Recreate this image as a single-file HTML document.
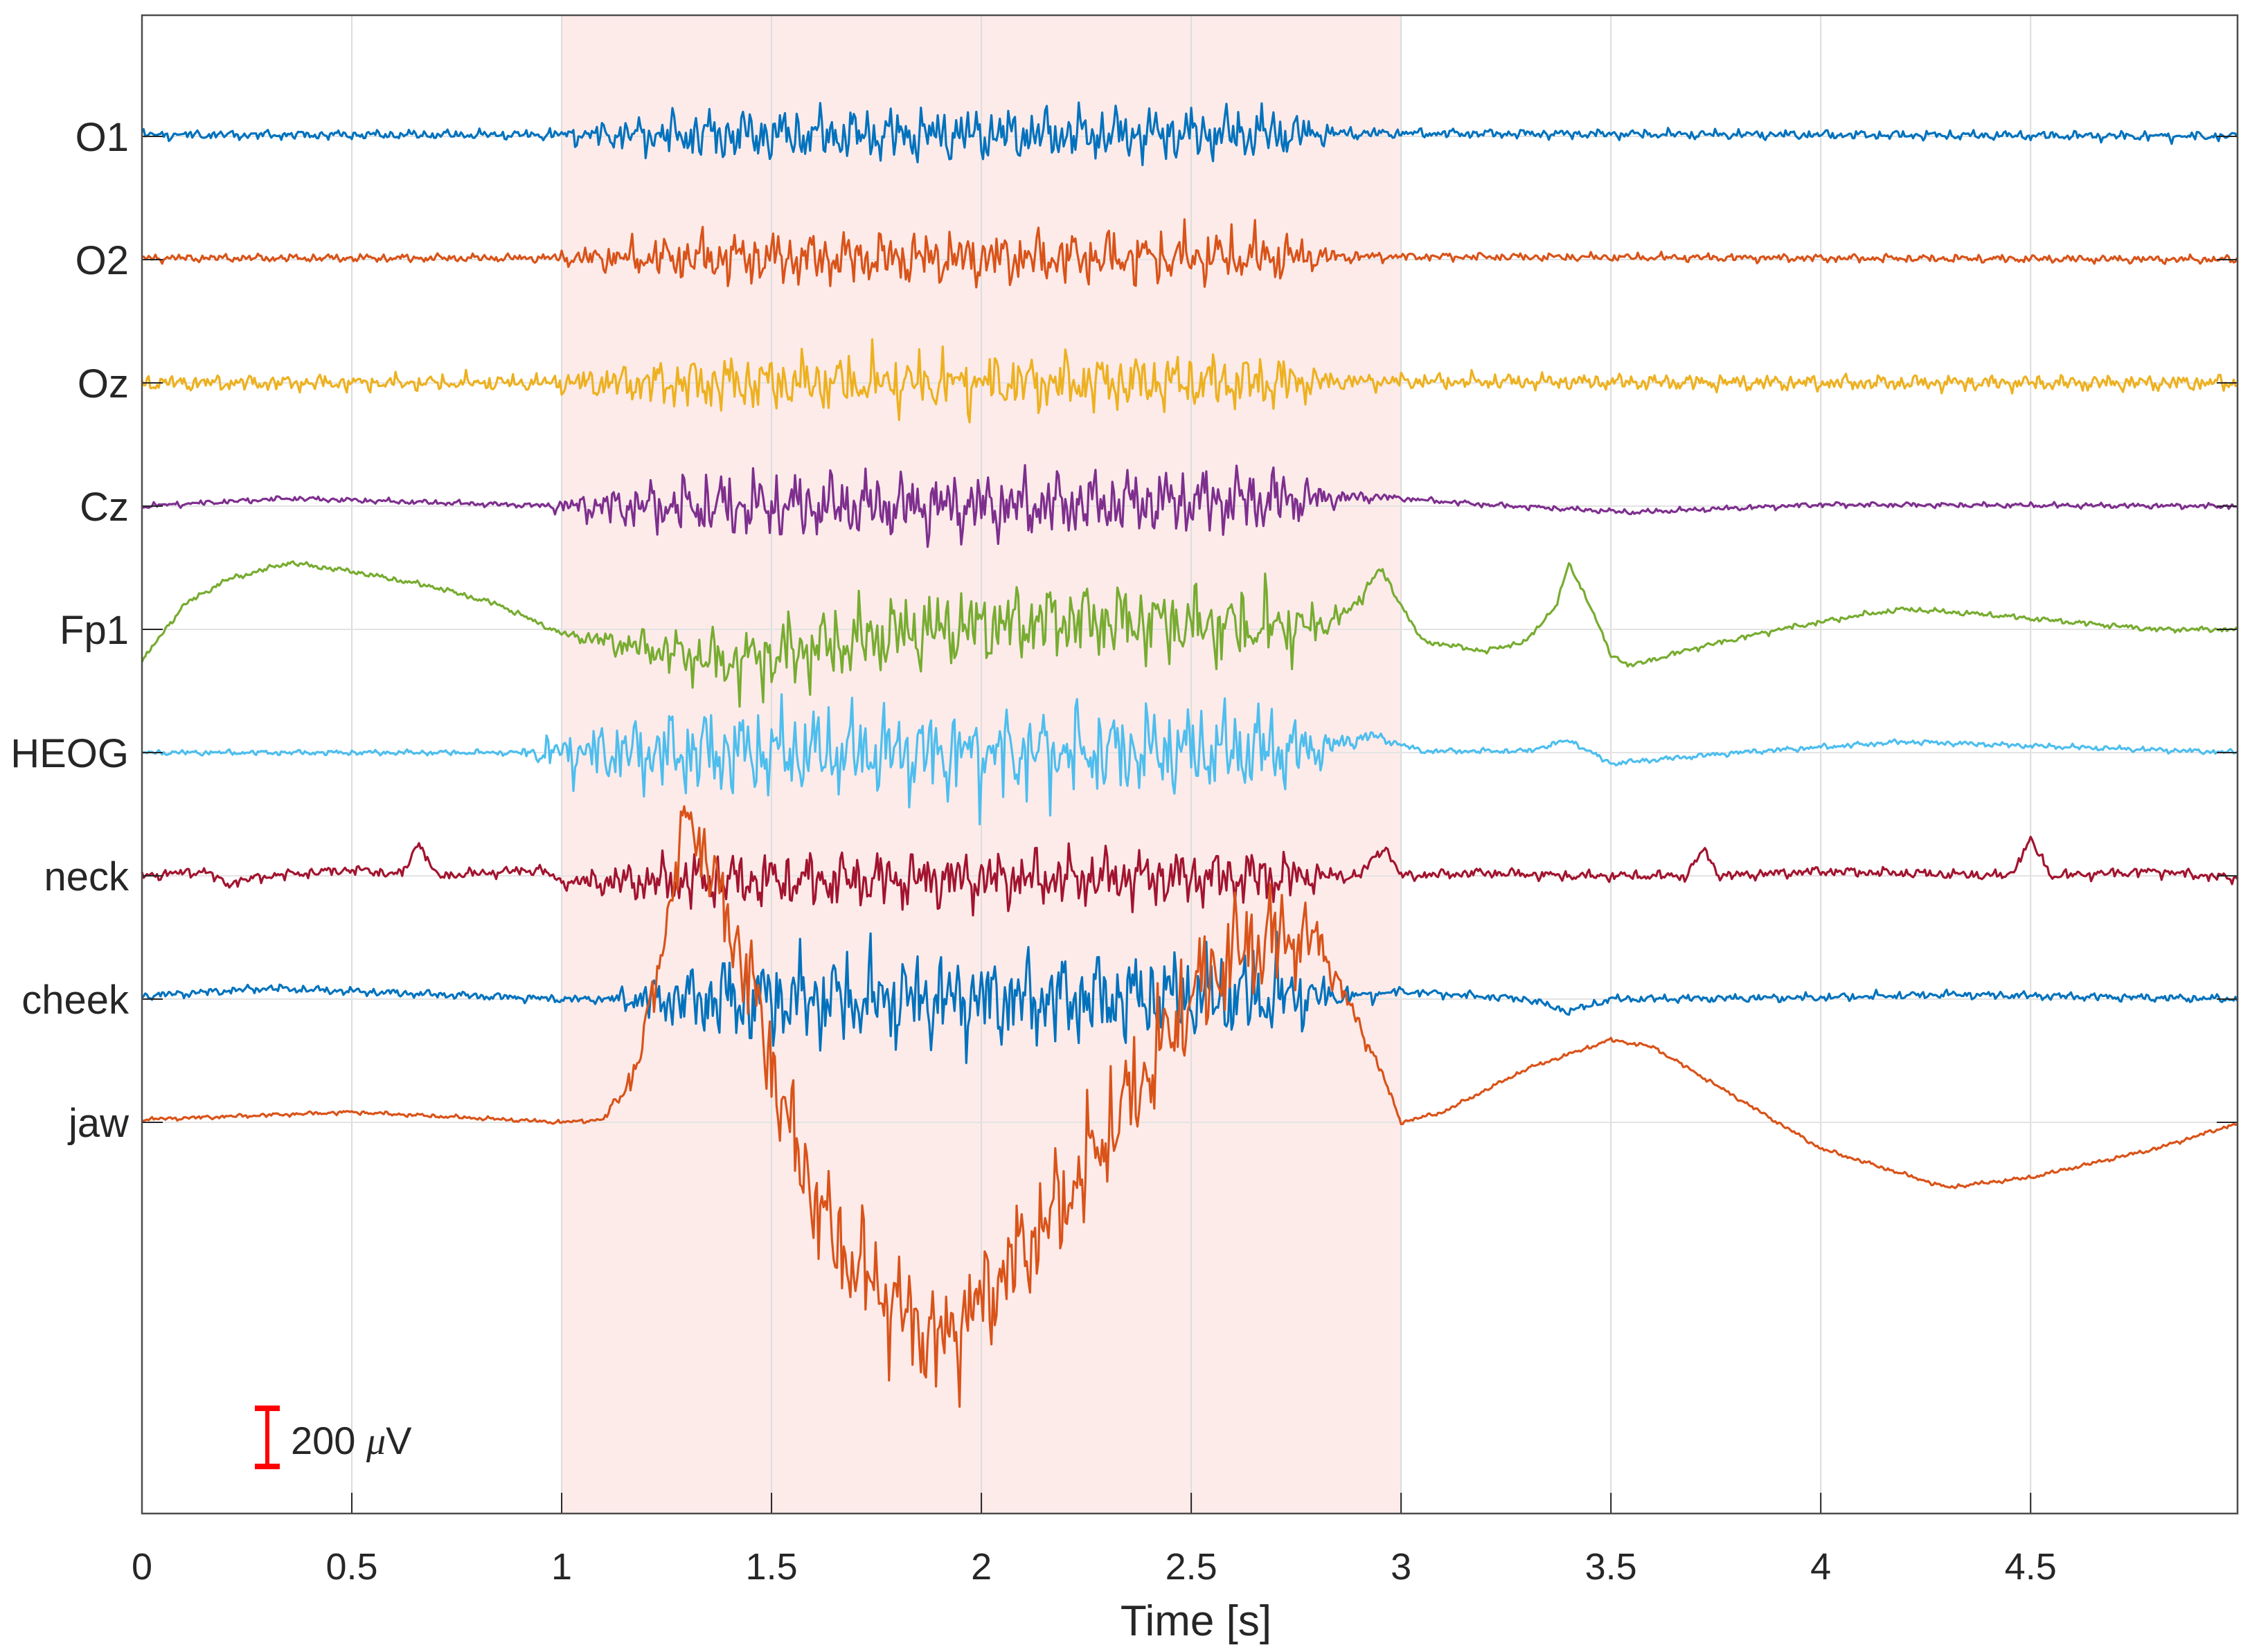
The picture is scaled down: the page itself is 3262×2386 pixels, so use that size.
<!DOCTYPE html>
<html><head><meta charset="utf-8">
<style>
html,body{margin:0;padding:0;background:#fff;}
svg text{font-family:"Liberation Sans",Arial,sans-serif;fill:#262626;}
</style></head>
<body>
<svg id="chart" width="3262" height="2381" viewBox="0 0 3262 2381" xmlns="http://www.w3.org/2000/svg">
<rect x="0" y="0" width="3262" height="2381" fill="#fff"/>
<g id="bg"></g>
<g id="grid"></g>
<g id="traces"></g>
<g id="axes"></g>
</svg>
<script>
// ---- data ----
const channels = ["O1","O2","Oz","Cz","Fp1","HEOG","neck","cheek","jaw"];
const colors = ["#0072BD","#D95319","#EDB120","#7E2F8E","#77AC30","#4DBEEE","#A2142F","#0072BD","#D95319"];
const xTicks = [0,0.5,1,1.5,2,2.5,3,3.5,4,4.5];
const xTickLabels = ["0","0.5","1","1.5","2","2.5","3","3.5","4","4.5"];
const shadeStart = 1, shadeEnd = 3;
const scaleBarUV = 200;
// drift knots (time s, value µV) per channel
const driftT_O1 = [0,1,2,3,4,5];
const driftV_O1 = [5,5,5,10,5,0];
const driftT_O2 = [0,1,2,3,4,5];
const driftV_O2 = [5,5,5,10,5,0];
const driftT_Oz = [0,1,2,3,4,5];
const driftV_Oz = [0,0,0,5,0,0];
const driftT_Cz = [0,0.35,0.6,1,2,2.95,3.2,3.55,4,5];
const driftV_Cz = [0,25,15,0,0,30,5,-20,5,0];
const driftT_Fp1 = [0,0.1,0.2,0.35,0.5,0.7,0.85,1.0,1.2,1.4,1.6,1.8,2.0,2.2,2.4,2.6,2.8,2.88,2.95,3.0,3.05,3.2,3.3,3.37,3.4,3.45,3.5,3.55,3.7,3.9,4.1,4.2,4.4,4.6,4.8,5];
const driftV_Fp1 = [-102,79,158,214,186,135,79,-14,-60,-107,-60,-14,9,33,23,9,9,60,195,79,-37,-70,-37,79,209,79,-84,-116,-60,0,47,65,47,23,0,0];
const driftT_HEOG = [0,1,2,2.8,2.93,3.05,3.3,3.4,3.5,3.8,4.2,5];
const driftV_HEOG = [0,0,0,10,55,5,5,40,-35,0,35,0];
const driftT_neck = [0,0.15,0.2,0.3,0.5,0.62,0.66,0.7,0.95,1.0,2.9,2.96,3.0,3.2,3.4,3.68,3.72,3.76,4.0,4.45,4.5,4.55,4.8,5];
const driftV_neck = [0,15,-25,0,20,5,110,0,20,-20,0,95,0,10,0,0,85,0,15,0,115,0,15,-10];
const driftT_cheek = [0,0.3,0.8,1,2,2.9,3.0,3.3,3.4,3.5,4,4.3,5];
const driftV_cheek = [10,35,10,0,0,10,25,0,-40,0,5,15,0];
const driftT_jaw = [0,0.5,1.0,1.1,1.18,1.25,1.3,1.35,1.45,1.55,1.65,1.8,1.9,2.0,2.2,2.4,2.5,2.6,2.7,2.8,2.85,2.95,3.0,3.1,3.3,3.5,3.6,3.8,4.0,4.3,4.5,4.8,5];
const driftV_jaw = [9,33,0,9,172,637,1009,823,451,-60,-386,-595,-711,-572,-246,172,405,544,591,591,451,172,0,33,172,265,242,79,-84,-209,-177,-84,0];
// noise amplitude knots (time s, µV)
const ampT_O1 = [0,0.95,1.1,1.35,2.7,2.85,3,5];
const ampV_O1 = [14,14,40,80,80,20,14,14];
const ampT_O2 = [0,0.95,1.1,1.35,2.7,2.85,3,5];
const ampV_O2 = [12,12,40,80,80,20,12,12];
const ampT_Oz = [0,0.95,1.1,1.35,2.7,2.85,3,5];
const ampV_Oz = [24,24,50,85,85,25,24,24];
const ampT_Cz = [0,0.95,1.1,1.35,2.7,2.85,3,5];
const ampV_Cz = [8,8,55,100,100,25,8,8];
const ampT_Fp1 = [0,1.0,1.2,1.5,2.7,2.85,3,5];
const ampV_Fp1 = [8,8,55,115,115,30,8,8];
const ampT_HEOG = [0,0.9,1.0,1.3,2.7,2.85,3,5];
const ampV_HEOG = [8,8,70,135,135,30,8,8];
const ampT_neck = [0,1.0,1.1,1.3,2.7,2.85,3,5];
const ampV_neck = [15,15,45,85,85,20,15,15];
const ampT_cheek = [0,1.1,1.2,1.4,2.7,2.85,3,5];
const ampV_cheek = [12,12,60,140,140,30,12,12];
const ampT_jaw = [0,1.1,1.2,1.5,2.7,2.85,3,5];
const ampV_jaw = [6,6,60,170,170,40,6,6];

const driftT = [driftT_O1,driftT_O2,driftT_Oz,driftT_Cz,driftT_Fp1,driftT_HEOG,driftT_neck,driftT_cheek,driftT_jaw];
const driftV = [driftV_O1,driftV_O2,driftV_Oz,driftV_Cz,driftV_Fp1,driftV_HEOG,driftV_neck,driftV_cheek,driftV_jaw];
const ampT = [ampT_O1,ampT_O2,ampT_Oz,ampT_Cz,ampT_Fp1,ampT_HEOG,ampT_neck,ampT_cheek,ampT_jaw];
const ampV = [ampV_O1,ampV_O2,ampV_Oz,ampV_Cz,ampV_Fp1,ampV_HEOG,ampV_neck,ampV_cheek,ampV_jaw];

// ---- layout ----
const L=205, R=3231, T=22, B=2186;
const xMin=0, xMax=4.993;
const baseY0=197, chSpacing=178;
const pxPerUV = 90/200;
const NS="http://www.w3.org/2000/svg";
function xs(t){return L+(t-xMin)/(xMax-xMin)*(R-L);}
function ys(ch,uv){return baseY0+ch*chSpacing-uv*pxPerUV;}
function interp(ts,vs,t){
  if(t<=ts[0])return vs[0];
  for(let i=1;i<ts.length;i++){ if(t<=ts[i]){const f=(t-ts[i-1])/(ts[i]-ts[i-1]);return vs[i-1]+f*(vs[i]-vs[i-1]);} }
  return vs[vs.length-1];
}
function mk(tag,attrs,parent){const e=document.createElementNS(NS,tag);for(const k in attrs)e.setAttribute(k,attrs[k]);parent.appendChild(e);return e;}

const bg=document.getElementById('bg'), grid=document.getElementById('grid'), tr=document.getElementById('traces'), ax=document.getElementById('axes');

const shade=mk('rect',{x:xs(shadeStart),y:T,width:xs(shadeEnd)-xs(shadeStart),height:B-T,fill:'#fdebea'},bg);



xTicks.forEach((t,i)=>{
  const g=mk('line',{x1:xs(t),x2:xs(t),y1:T,y2:B,stroke:'#dcdcdc','stroke-width':2},grid);
  
  
  mk('line',{x1:xs(t),x2:xs(t),y1:B,y2:B-30,stroke:'#262626','stroke-width':2},ax);
  const lb=mk('text',{x:xs(t),y:2281,'font-size':54,'text-anchor':'middle'},ax);
  lb.textContent=xTickLabels[i];
  
  
});
channels.forEach((c,i)=>{
  const y=ys(i,0);
  const g=mk('line',{x1:L,x2:R,y1:y,y2:y,stroke:'#e3e3e3','stroke-width':2},grid);
  
  
  mk('line',{x1:L,x2:L+30,y1:y,y2:y,stroke:'#262626','stroke-width':2},ax);
  mk('line',{x1:R,x2:R-30,y1:y,y2:y,stroke:'#262626','stroke-width':2},ax);
  const lb=mk('text',{x:186,y:y+21,'font-size':58,'text-anchor':'end'},ax);
  lb.textContent=c;
  
  
});

// traces
const dt=0.004;
channels.forEach((c,i)=>{
  const ph=i*1.37;
  let d='';
  for(let t=0;t<=xMax+1e-9;t+=dt){
    const n=0.3*Math.sin(2*Math.PI*11.3*t+ph)+0.3*Math.sin(2*Math.PI*23.7*t+1+ph*2)+0.3*Math.sin(2*Math.PI*37.1*t+2+ph*3)+0.3*Math.sin(2*Math.PI*53.9*t+0.5+ph)+0.28*Math.sin(2*Math.PI*71.3*t+ph*5)+0.25*Math.sin(2*Math.PI*89.7*t+ph*7)+0.2*Math.sin(2*Math.PI*107.3*t+ph*3.3);
    const v=interp(driftT[i],driftV[i],t)+interp(ampT[i],ampV[i],t)*n;
    d+=(d?'L':'M')+xs(t).toFixed(1)+' '+ys(i,v).toFixed(1);
  }
  const p=mk('path',{d:d,fill:'none',stroke:colors[i],'stroke-width':3.2,'stroke-linejoin':'round'},tr);
  
  
});

// axes box
const box=mk('rect',{x:L,y:T,width:R-L,height:B-T,fill:'none',stroke:'#4d4d4d','stroke-width':2.5},ax);



// scale bar
const sb=mk('g',{},ax);


const sbTop=2031, sbBot=sbTop+scaleBarUV*pxPerUV, sbX=386;
mk('line',{x1:sbX,x2:sbX,y1:sbTop,y2:sbBot,stroke:'#ff0000','stroke-width':6},sb);
mk('line',{x1:sbX-18,x2:sbX+18,y1:sbTop+3,y2:sbTop+3,stroke:'#ff0000','stroke-width':8},sb);
mk('line',{x1:sbX-18,x2:sbX+18,y1:sbBot-3,y2:sbBot-3,stroke:'#ff0000','stroke-width':8},sb);
const st=mk('text',{x:420,y:2100,'font-size':56,fill:'#000'},sb);
st.innerHTML='200 <tspan font-style="italic" font-family="Liberation Serif">μ</tspan>V';



const xl=mk('text',{x:1727,y:2362,'font-size':62,'text-anchor':'middle'},ax);
xl.textContent='Time [s]';


</script>
</body></html>
